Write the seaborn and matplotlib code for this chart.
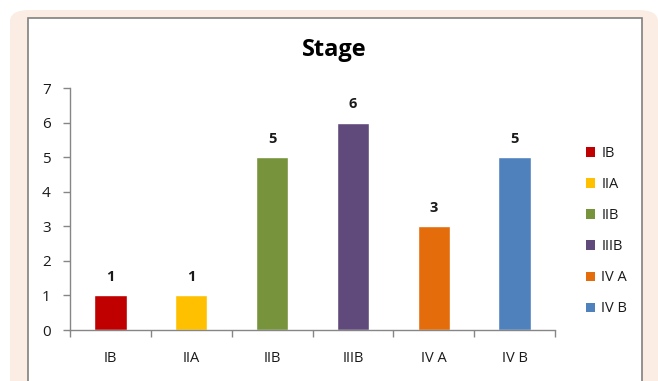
import matplotlib
matplotlib.use("Agg")
import matplotlib.pyplot as plt
import seaborn as sns
import pandas as pd
from matplotlib.patches import FancyBboxPatch, Rectangle, Patch

categories = ["IB", "IIA", "IIB", "IIIB", "IV A", "IV B"]
values = [1, 1, 5, 6, 3, 5]
colors = ["#C00000", "#FFC000", "#77933C", "#604A7B", "#E46C0A", "#4F81BD"]
yticks = [0, 1, 2, 3, 4, 5, 6, 7]
title = "Stage"

sns.set_style("white")
plt.rcParams["font.family"] = ["Open Sans", "DejaVu Sans"]

W, H = 658, 381
fig = plt.figure(figsize=(W / 100, H / 100), dpi=100)
fig.patch.set_facecolor("white")

def fx(px):
    return px / W

def fy(py):
    return 1 - py / H

# peach rounded background
bg = FancyBboxPatch((fx(10), fy(400)), fx(648), (400 - 10) / H,
                    boxstyle="round,pad=0,rounding_size=0.03",
                    transform=fig.transFigure, facecolor="#FBEDE4",
                    edgecolor="none", zorder=0)
fig.patches.append(bg)
# white inner panel
panel = Rectangle((fx(27.5), fy(400)), fx(641.5 - 27.5), (400 - 17.5) / H,
                  transform=fig.transFigure, facecolor="white",
                  edgecolor="#808080", linewidth=1.2, zorder=1)
fig.patches.append(panel)

ax = fig.add_axes([fx(70), fy(330), fx(555 - 70), (330 - 88) / H])
ax.set_facecolor("none")
ax.set_zorder(2)

df = pd.DataFrame({"stage": categories, "count": values})
sns.barplot(data=df, x="stage", y="count", hue="stage", palette=colors,
            width=0.4, legend=False, ax=ax, saturation=1, order=categories,
            hue_order=categories)

txt = "#1a1a1a"
ax.set_ylim(0, 7)
ax.set_xlim(-0.5, len(categories) - 0.5)
ax.set_yticks(yticks)
ax.set_yticklabels([str(t) for t in yticks], fontsize=11, color=txt)
ax.set_xticks([i - 0.5 for i in range(len(categories) + 1)])
ax.set_xticklabels([])
ax.set_xticks(range(len(categories)), minor=True)
ax.set_xticklabels(categories, minor=True, fontsize=10.5, color=txt)
ax.tick_params(axis="x", which="major", bottom=True, direction="out",
               length=5, color="#868686", width=1)
ax.tick_params(axis="x", which="minor", bottom=True, length=0, pad=15)
ax.tick_params(axis="y", left=True, direction="out", length=5,
               color="#868686", width=1, pad=9)
ax.set_xlabel("")
ax.set_ylabel("")
for s in ["top", "right"]:
    ax.spines[s].set_visible(False)
for s in ["left", "bottom"]:
    ax.spines[s].set_color("#868686")
    ax.spines[s].set_linewidth(1)

for i, v in enumerate(values):
    ax.annotate(str(v), (i, v), xytext=(0, 8), textcoords="offset points",
                ha="center", va="bottom", fontsize=10.5, fontweight="bold",
                color=txt)

fig.text(fx(334), fy(50), title, ha="center", va="center", fontsize=17,
         fontweight="bold", color="black", zorder=3)

handles = [Patch(facecolor=c, edgecolor="none") for c in colors]
leg = fig.legend(handles, categories, loc="upper left",
                 bbox_to_anchor=(fx(573), fy(133)), frameon=False,
                 fontsize=10.5, handlelength=0.6, handleheight=0.6,
                 handletextpad=0.45, labelspacing=1.1)
for t in leg.get_texts():
    t.set_color(txt)
leg.set_zorder(3)

fig.savefig("out.png", dpi=100)
